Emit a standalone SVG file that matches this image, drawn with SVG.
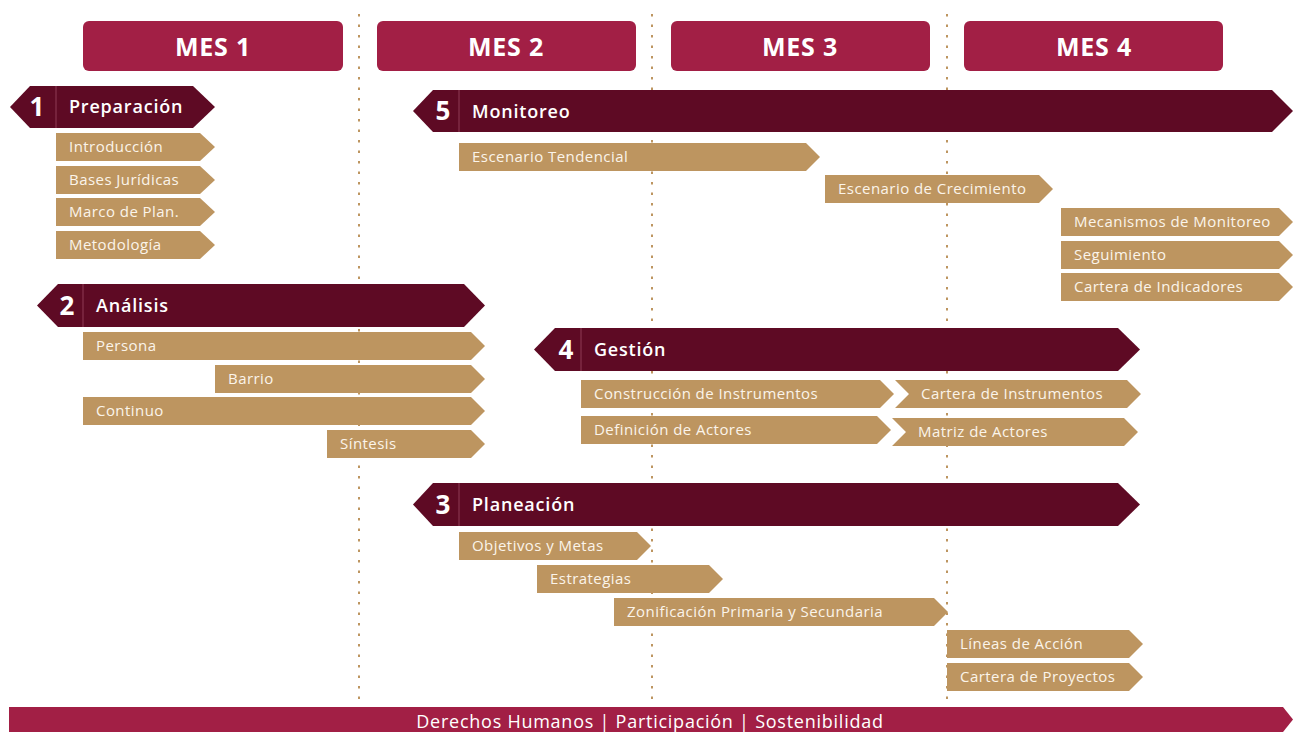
<svg xmlns="http://www.w3.org/2000/svg" width="1293" height="732" viewBox="0 0 1293 732">
<style>
.hdr{fill:#A21F45}
.hdrt{font-family:"Open Sans",sans-serif;font-weight:700;font-size:25px;fill:#fff;text-anchor:middle;letter-spacing:0.8px}
.ban{fill:#5E0A24}
.div{stroke:#8E3A55;stroke-width:1}
.num{font-family:"Open Sans",sans-serif;font-weight:700;font-size:26px;fill:#fff;text-anchor:middle}
.bt{font-family:"Open Sans",sans-serif;font-weight:600;font-size:18px;fill:#fff;letter-spacing:0.8px}
.it{fill:#BD9560}
.itt{font-family:"Open Sans",sans-serif;font-size:15px;fill:#FBF4EA;letter-spacing:0.45px}
.grid{stroke:#BD9560;stroke-width:2;stroke-dasharray:2.5 8}
.foot{fill:#A21F45}
.ft{font-family:"Open Sans",sans-serif;font-size:18px;fill:#fff;text-anchor:middle;letter-spacing:0.75px}
</style>
<rect width="1293" height="732" fill="#fff"/>
<g id="connectors">
<line class="grid" x1="359" y1="14" x2="359" y2="706"/>
<line class="grid" x1="652" y1="14" x2="652" y2="706"/>
<line class="grid" x1="947" y1="14" x2="947" y2="706"/>
</g>
<g id="mes1"><rect class="hdr" x="83" y="21" width="260" height="50" rx="6"/><text class="hdrt" x="213" y="56">MES 1</text></g>
<g id="mes2"><rect class="hdr" x="377" y="21" width="259" height="50" rx="6"/><text class="hdrt" x="506" y="56">MES 2</text></g>
<g id="mes3"><rect class="hdr" x="671" y="21" width="259" height="50" rx="6"/><text class="hdrt" x="800" y="56">MES 3</text></g>
<g id="mes4"><rect class="hdr" x="964" y="21" width="259" height="50" rx="6"/><text class="hdrt" x="1094" y="56">MES 4</text></g>

<g id="fase1">
<polygon class="ban" points="10,107 30,86 193,86 215,107 193,128 30,128"/>
<line class="div" x1="56" y1="86" x2="56" y2="128"/>
<text class="num" x="37" y="116">1</text>
<text class="bt" x="69" y="113">Preparación</text>
</g>
<g id="introduccion"><polygon class="it" points="56,133 200,133 215,147 200,161 56,161"/><text class="itt" x="69" y="152">Introducción</text></g>
<g id="bases"><polygon class="it" points="56,166 200,166 215,180 200,194 56,194"/><text class="itt" x="69" y="185">Bases Jurídicas</text></g>
<g id="marco"><polygon class="it" points="56,198 200,198 215,212 200,226 56,226"/><text class="itt" x="69" y="217">Marco de Plan.</text></g>
<g id="metodologia"><polygon class="it" points="56,231 200,231 215,245 200,259 56,259"/><text class="itt" x="69" y="250">Metodología</text></g>

<g id="fase5">
<polygon class="ban" points="413,111 433,90 1272,90 1293,111 1272,132 433,132"/>
<line class="div" x1="459" y1="90" x2="459" y2="132"/>
<text class="num" x="443" y="120">5</text>
<text class="bt" x="472" y="118">Monitoreo</text>
</g>
<g id="tendencial"><polygon class="it" points="459,143 806,143 820,157 806,171 459,171"/><text class="itt" x="472" y="162">Escenario Tendencial</text></g>
<g id="crecimiento"><polygon class="it" points="825,175 1039,175 1053,189 1039,203 825,203"/><text class="itt" x="838" y="194">Escenario de Crecimiento</text></g>
<g id="mecanismos"><polygon class="it" points="1061,208 1279,208 1293,222 1279,236 1061,236"/><text class="itt" x="1074" y="227">Mecanismos de Monitoreo</text></g>
<g id="seguimiento"><polygon class="it" points="1061,241 1279,241 1293,255 1279,269 1061,269"/><text class="itt" x="1074" y="260">Seguimiento</text></g>
<g id="indicadores"><polygon class="it" points="1061,273 1279,273 1293,287 1279,301 1061,301"/><text class="itt" x="1074" y="292">Cartera de Indicadores</text></g>

<g id="fase2">
<polygon class="ban" points="37,305.5 58,284 464,284 485,305.5 464,327 58,327"/>
<line class="div" x1="83" y1="284" x2="83" y2="327"/>
<text class="num" x="67" y="315">2</text>
<text class="bt" x="96" y="312">Análisis</text>
</g>
<g id="persona"><polygon class="it" points="83,332 471,332 485,346 471,360 83,360"/><text class="itt" x="96" y="351">Persona</text></g>
<g id="barrio"><polygon class="it" points="215,365 471,365 485,379 471,393 215,393"/><text class="itt" x="228" y="384">Barrio</text></g>
<g id="continuo"><polygon class="it" points="83,397 471,397 485,411 471,425 83,425"/><text class="itt" x="96" y="416">Continuo</text></g>
<g id="sintesis"><polygon class="it" points="327,430 471,430 485,444 471,458 327,458"/><text class="itt" x="340" y="449">Síntesis</text></g>

<g id="fase4">
<polygon class="ban" points="534,349.5 555,328 1118,328 1140,349.5 1118,371 555,371"/>
<line class="div" x1="581" y1="328" x2="581" y2="371"/>
<text class="num" x="566" y="359">4</text>
<text class="bt" x="594" y="356">Gestión</text>
</g>
<g id="construccion"><polygon class="it" points="581,380 880,380 894,394 880,408 581,408"/><text class="itt" x="594" y="399">Construcción de Instrumentos</text></g>
<g id="carteraInst"><polygon class="it" points="895,380 1127,380 1141,394 1127,408 895,408 909,394"/><text class="itt" x="921" y="399">Cartera de Instrumentos</text></g>
<g id="definicion"><polygon class="it" points="581,416 877,416 891,430 877,444 581,444"/><text class="itt" x="594" y="435">Definición de Actores</text></g>
<g id="matriz"><polygon class="it" points="892,418 1124,418 1138,432 1124,446 892,446 906,432"/><text class="itt" x="918" y="437">Matriz de Actores</text></g>

<g id="fase3">
<polygon class="ban" points="413,504.5 433,483 1118,483 1140,504.5 1118,526 433,526"/>
<line class="div" x1="459" y1="483" x2="459" y2="526"/>
<text class="num" x="443" y="514">3</text>
<text class="bt" x="472" y="511">Planeación</text>
</g>
<g id="objetivos"><polygon class="it" points="459,532 637,532 651,546 637,560 459,560"/><text class="itt" x="472" y="551">Objetivos y Metas</text></g>
<g id="estrategias"><polygon class="it" points="537,565 709,565 723,579 709,593 537,593"/><text class="itt" x="550" y="584">Estrategias</text></g>
<g id="zonificacion"><polygon class="it" points="614,598 934,598 948,612 934,626 614,626"/><text class="itt" x="627" y="617">Zonificación Primaria y Secundaria</text></g>
<g id="lineas"><polygon class="it" points="947,630 1129,630 1143,644 1129,658 947,658"/><text class="itt" x="960" y="649">Líneas de Acción</text></g>
<g id="proyectos"><polygon class="it" points="947,663 1129,663 1143,677 1129,691 947,691"/><text class="itt" x="960" y="682">Cartera de Proyectos</text></g>

<g id="pie">
<polygon class="foot" points="9,707 1283,707 1293,719.5 1283,732 9,732"/>
<text class="ft" x="650" y="728">Derechos Humanos | Participación | Sostenibilidad</text>
</g>
</svg>
